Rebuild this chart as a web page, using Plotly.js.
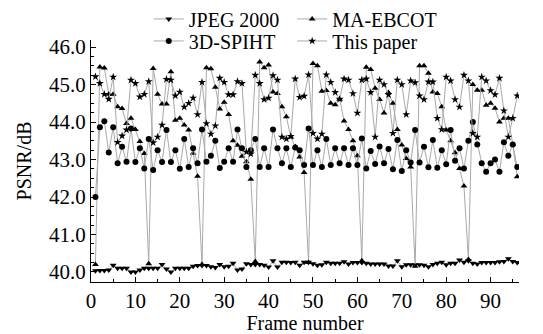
<!DOCTYPE html>
<html>
<head>
<meta charset="utf-8">
<script src="https://cdn.plot.ly/plotly-3.0.1.min.js"></script>
<style>
html,body{margin:0;padding:0;background:#fff;}
#chart{width:543px;height:334px;}
</style>
</head>
<body>
<div id="chart"></div>
<script>
// Frame numbers 1..96
const frames = Array.from({length: 96}, (_, i) => i + 1);

const jpeg2000 = [
40.03,40.04,40.04,40.05,40.18,40.10,40.10,40.10,40.00,40.00,
40.05,40.10,40.10,40.10,40.10,40.20,40.08,40.00,40.10,40.10,
40.10,40.10,40.15,40.17,40.17,40.17,40.14,40.12,40.20,40.14,
40.15,40.23,40.05,40.08,40.22,40.20,40.20,40.20,40.18,40.13,
40.30,40.13,40.26,40.26,40.25,40.26,40.18,40.26,40.26,40.22,
40.18,40.19,40.26,40.23,40.23,40.23,40.27,40.21,40.25,40.25,
40.25,40.23,40.21,40.21,40.21,40.21,40.16,40.16,40.30,40.14,
40.19,40.19,40.19,40.19,40.18,40.14,40.20,40.23,40.26,40.19,
40.23,40.23,40.32,40.26,40.30,40.23,40.21,40.25,40.25,40.25,
40.25,40.27,40.28,40.35,40.28,40.25];

const maEbcot = [
40.20,45.47,45.44,44.74,44.74,44.41,44.36,43.96,44.10,43.80,43.48,43.16,
40.22,45.43,44.74,44.48,44.48,45.34,44.05,44.10,43.92,43.79,43.17,42.55,
40.20,45.45,45.42,44.93,44.35,44.53,44.20,43.50,43.38,43.09,42.94,42.47,
40.28,45.60,45.45,45.52,44.80,44.76,44.41,44.14,43.60,43.34,43.07,42.65,
40.25,45.56,45.50,44.82,44.84,44.50,44.46,44.61,44.03,43.80,43.50,43.10,
40.30,45.46,45.40,44.90,44.60,44.24,44.79,44.50,43.80,43.39,43.03,42.80,
40.15,45.50,45.50,45.30,44.80,44.76,44.41,43.79,43.50,43.18,42.76,42.29,
40.33,45.00,44.85,44.85,44.45,44.50,44.37,44.00,44.10,44.10,43.40,42.54];

const spiht3d = [
42.00,43.86,44.02,43.19,43.86,42.90,43.34,42.94,43.83,42.93,43.30,42.76,
43.55,42.72,43.25,42.93,43.79,42.93,43.25,42.75,43.55,42.80,43.30,42.90,
43.80,42.94,43.10,43.50,42.77,42.94,43.30,42.94,43.80,43.30,42.80,43.25,
43.55,42.80,43.30,42.80,43.80,43.30,42.90,43.30,42.80,43.32,43.25,42.85,
43.83,42.85,43.25,42.80,43.55,42.85,43.30,42.90,43.30,42.85,43.30,42.85,
43.56,42.76,43.23,42.88,43.35,42.90,43.28,42.74,43.52,42.69,43.25,42.92,
43.79,42.92,43.34,42.79,43.52,42.78,43.25,42.87,43.79,42.97,43.30,42.76,
43.50,44.00,43.40,42.90,42.67,42.90,43.00,42.67,43.46,43.10,43.40,42.80];

const thisPaper = [
45.21,45.03,44.74,44.61,45.20,43.46,43.63,43.79,45.12,45.03,44.67,44.74,
45.08,43.45,43.60,43.92,45.14,45.12,44.70,44.80,44.40,44.50,44.64,44.20,
45.06,43.96,43.68,43.90,45.17,45.06,44.73,44.73,45.08,45.03,43.20,43.15,
45.25,45.03,44.60,44.64,45.24,45.12,43.60,43.55,43.62,45.15,44.66,44.69,
45.26,43.70,43.55,43.68,45.26,45.06,44.79,44.61,45.15,45.12,44.76,44.24,
45.12,45.15,44.79,43.60,45.12,45.00,44.73,43.70,45.12,45.00,44.20,45.10,
45.05,44.70,44.60,45.07,45.07,44.10,43.80,45.20,45.10,44.60,44.40,45.25,
45.10,43.70,43.60,45.20,45.10,44.84,44.73,45.17,44.30,43.60,44.10,44.70];

const seriesNames = ['JPEG 2000', 'MA-EBCOT', '3D-SPIHT', 'This paper'];

const FONT = 'Liberation Serif, Times New Roman, serif';
const lineStyle = {color: '#a9a9a9', width: 1};

function mk(name, y, symbol, size, legend) {
  return {
    x: frames, y: y, name: name, type: 'scatter', mode: 'lines+markers',
    line: lineStyle,
    marker: {symbol: symbol, size: size, color: '#000', line: {width: 0}},
    legend: legend
  };
}

const traces = [
  mk(seriesNames[0], jpeg2000, 'triangle-down', 6, 'legend'),
  mk(seriesNames[1], maEbcot, 'triangle-up', 6, 'legend2'),
  mk(seriesNames[2], spiht3d, 'circle', 6, 'legend3'),
  mk(seriesNames[3], thisPaper, 'star', 6, 'legend4')
];

function leg(x, y) {
  return {
    x: x, y: y, xanchor: 'left', yanchor: 'middle',
    orientation: 'v', bgcolor: 'rgba(0,0,0,0)',
    font: {family: FONT, size: 20, color: '#000'},
    itemwidth: 30, tracegroupgap: 0
  };
}

const layout = {
  width: 543, height: 334,
  margin: {l: 91, r: 24, t: 40, b: 52, autoexpand: false},
  paper_bgcolor: '#fff', plot_bgcolor: '#fff',
  font: {family: FONT, color: '#000', size: 19},
  showlegend: true,
  legend: leg(0.135, 1.087),
  legend2: leg(0.47, 1.087),
  legend3: leg(0.135, 0.996),
  legend4: leg(0.47, 0.996),
  xaxis: {
    range: [0, 96.4], tickmode: 'linear', tick0: 0, dtick: 10,
    ticks: 'inside', ticklen: 5, tickwidth: 1, tickcolor: '#000',
    minor: {dtick: 5, ticks: 'inside', ticklen: 3, tickcolor: '#000'},
    showline: true, linecolor: '#000', linewidth: 1,
    showgrid: false, zeroline: false,
    tickfont: {family: FONT, size: 21, color: '#000'},
    title: {text: 'Frame number', font: {family: FONT, size: 20, color: '#000'}, standoff: 2}
  },
  yaxis: {
    range: [39.733, 46.187], tickmode: 'linear', tick0: 40, dtick: 1,
    tickformat: '.1f',
    ticks: 'inside', ticklen: 5, tickwidth: 1, tickcolor: '#000',
    minor: {dtick: 0.25, ticks: 'inside', ticklen: 3, tickcolor: '#000'},
    showline: true, linecolor: '#000', linewidth: 1,
    showgrid: false, zeroline: false,
    tickfont: {family: FONT, size: 21, color: '#000'},
    title: {text: 'PSNR/dB', font: {family: FONT, size: 20, color: '#000'}, standoff: 12}
  }
};

Plotly.newPlot('chart', traces, layout, {displayModeBar: false, staticPlot: true});
</script>
</body>
</html>
